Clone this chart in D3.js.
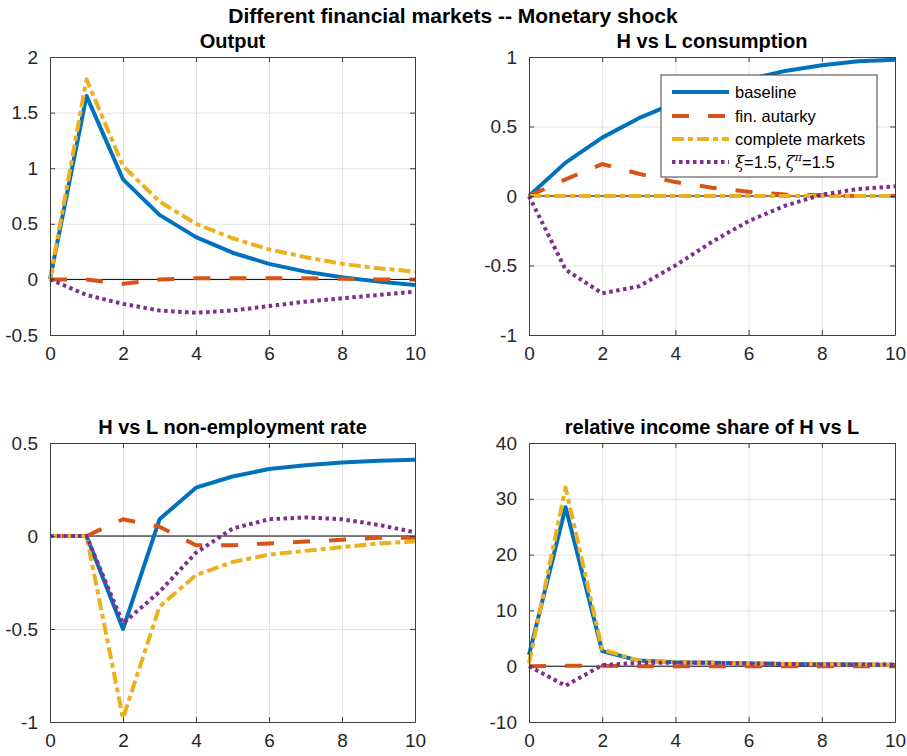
<!DOCTYPE html>
<html>
<head>
<meta charset="utf-8">
<script src="https://cdn.jsdelivr.net/npm/d3@7"></script>
<style>
  body { margin: 0; background: #fff; }
  svg { display: block; font-family: "Liberation Sans", Arial, sans-serif; }
</style>
</head>
<body>
<svg id="fig"></svg>
<script>
// horizon (quarters) and tick labels
const periods = [0, 1, 2, 3, 4, 5, 6, 7, 8, 9, 10];
const xTicks = [0, 2, 4, 6, 8, 10];

// Output
const outputBaseline = [0, 1.65, 0.90, 0.58, 0.38, 0.24, 0.14, 0.07, 0.02, -0.02, -0.05];
const outputAutarky  = [0, 0.00, -0.04, 0.00, 0.01, 0.01, 0.01, 0.01, 0.005, 0.00, 0.00];
const outputComplete = [0, 1.80, 1.02, 0.70, 0.50, 0.37, 0.27, 0.20, 0.14, 0.10, 0.07];
const outputXi       = [0, -0.14, -0.22, -0.28, -0.30, -0.28, -0.24, -0.20, -0.17, -0.14, -0.11];

// H vs L consumption
const consBaseline = [0, 0.24, 0.42, 0.56, 0.67, 0.76, 0.84, 0.90, 0.94, 0.97, 0.98];
const consAutarky  = [0, 0.12, 0.23, 0.16, 0.10, 0.06, 0.03, 0.01, 0.005, 0.00, 0.00];
const consComplete = [0, 0, 0, 0, 0, 0, 0, 0, 0, 0, 0];
const consXi       = [0, -0.53, -0.70, -0.65, -0.50, -0.33, -0.18, -0.07, 0.01, 0.05, 0.07];

// H vs L non-employment rate
const nonempBaseline = [0, 0, -0.50, 0.09, 0.26, 0.32, 0.36, 0.38, 0.395, 0.405, 0.41];
const nonempAutarky  = [0, 0, 0.09, 0.05, -0.05, -0.05, -0.04, -0.03, -0.02, -0.01, -0.01];
const nonempComplete = [0, 0, -0.98, -0.38, -0.21, -0.14, -0.10, -0.08, -0.06, -0.04, -0.03];
const nonempXi       = [0, 0, -0.47, -0.30, -0.09, 0.04, 0.09, 0.10, 0.09, 0.06, 0.02];

// relative income share of H vs L
const incomeBaseline = [2.0, 28.5, 2.7, 1.0, 0.7, 0.6, 0.5, 0.4, 0.35, 0.3, 0.2];
const incomeAutarky  = [0, 0.1, 0.1, 0, 0, 0, 0, 0, 0, 0, 0];
const incomeComplete = [0.5, 32.0, 3.0, 1.0, 0.7, 0.6, 0.5, 0.4, 0.35, 0.3, 0.25];
const incomeXi       = [0, -3.5, 0.2, 0.6, 0.6, 0.6, 0.5, 0.4, 0.3, 0.3, 0.3];

const panelTitles = ["Output", "H vs L consumption", "H vs L non-employment rate", "relative income share of H vs L"];
const panelYTicks = [
  [-0.5, 0, 0.5, 1, 1.5, 2],
  [-1, -0.5, 0, 0.5, 1],
  [-1, -0.5, 0, 0.5],
  [-10, 0, 10, 20, 30, 40]
];
const panelSeries = [
  [outputBaseline, outputAutarky, outputComplete, outputXi],
  [consBaseline, consAutarky, consComplete, consXi],
  [nonempBaseline, nonempAutarky, nonempComplete, nonempXi],
  [incomeBaseline, incomeAutarky, incomeComplete, incomeXi]
];

const styles = [
  {color: "#0072BD", dash: null},
  {color: "#D95319", dash: "17,19"},
  {color: "#EDB120", dash: "12,4,5,4"},
  {color: "#7E2F8E", dash: "3.5,3.5"}
];
const lw = 4;

const W = 907, H = 756;
const svg = d3.select("#fig").attr("width", W).attr("height", H);

const boxes = [
  {x: 50, y: 57, w: 365, h: 278},
  {x: 529, y: 57, w: 366, h: 278},
  {x: 50, y: 443, w: 365, h: 279},
  {x: 529, y: 443, w: 366, h: 279}
];

svg.append("text")
    .attr("x", 453).attr("y", 23)
    .attr("text-anchor", "middle")
    .style("font-size", "21px").style("font-weight", "bold")
    .text("Different financial markets -- Monetary shock");

const fmt = d => String(d);

boxes.forEach((b, i) => {
  const g = svg.append("g").attr("transform", `translate(${b.x},${b.y})`);
  const ticks = panelYTicks[i];
  const x = d3.scaleLinear().domain([0, 10]).range([0, b.w]);
  const y = d3.scaleLinear().domain([ticks[0], ticks[ticks.length - 1]]).range([b.h, 0]);

  // grid
  g.append("g")
      .call(d3.axisBottom(x).tickValues(xTicks).tickSize(b.h).tickFormat(""))
      .call(s => s.select(".domain").remove())
      .call(s => s.selectAll("line").attr("stroke", "#e3e3e3"));
  g.append("g")
      .call(d3.axisLeft(y).tickValues(ticks).tickSize(-b.w).tickFormat(""))
      .call(s => s.select(".domain").remove())
      .call(s => s.selectAll("line").attr("stroke", "#e3e3e3"));

  // zero line
  g.append("line")
      .attr("x1", x(0)).attr("x2", x(10))
      .attr("y1", y(0)).attr("y2", y(0))
      .attr("stroke", "#000").attr("stroke-width", 1);

  // series
  const line = d3.line().x((d, k) => x(periods[k])).y(d => y(d));
  panelSeries[i].forEach((vals, k) => {
    g.append("path")
        .datum(vals)
        .attr("d", line)
        .attr("fill", "none")
        .attr("stroke", styles[k].color)
        .attr("stroke-width", lw)
        .attr("stroke-linejoin", "round")
        .attr("stroke-dasharray", styles[k].dash);
  });

  // axes, box with inward ticks
  const axStyle = s => {
    s.select(".domain").attr("stroke", "#404040");
    s.selectAll(".tick line").attr("stroke", "#404040");
    s.selectAll("text").attr("fill", "#262626").style("font-size", "19px")
      .style("font-family", "'Liberation Sans', Arial, sans-serif");
  };
  g.append("g").attr("transform", `translate(0,${b.h})`)
      .call(d3.axisBottom(x).tickValues(xTicks).tickSizeInner(-5).tickSizeOuter(0).tickPadding(12).tickFormat(fmt))
      .call(axStyle);
  g.append("g")
      .call(d3.axisTop(x).tickValues(xTicks).tickSizeInner(-5).tickSizeOuter(0).tickFormat(""))
      .call(axStyle);
  g.append("g")
      .call(d3.axisLeft(y).tickValues(ticks).tickSizeInner(-5).tickSizeOuter(0).tickPadding(12).tickFormat(fmt))
      .call(axStyle);
  g.append("g").attr("transform", `translate(${b.w},0)`)
      .call(d3.axisRight(y).tickValues(ticks).tickSizeInner(-5).tickSizeOuter(0).tickFormat(""))
      .call(axStyle);

  g.append("text")
      .attr("x", b.w / 2).attr("y", -9)
      .attr("text-anchor", "middle")
      .style("font-size", "20px").style("font-weight", "bold")
      .text(panelTitles[i]);
});

// legend in the consumption panel
const leg = svg.append("g").attr("transform", "translate(661,75)");
leg.append("rect")
    .attr("width", 216).attr("height", 102)
    .attr("fill", "#fff").attr("stroke", "#404040").attr("stroke-width", 1);
const rowY = [17, 41, 64, 87];
const labels = ["baseline", "fin. autarky", "complete markets", null];
rowY.forEach((ry, k) => {
  leg.append("line")
      .attr("x1", 11).attr("x2", 68).attr("y1", ry).attr("y2", ry)
      .attr("stroke", styles[k].color).attr("stroke-width", lw)
      .attr("stroke-dasharray", styles[k].dash);
  const t = leg.append("text").attr("x", 74).attr("y", ry + 6)
      .attr("fill", "#000").style("font-size", "16.5px");
  if (labels[k]) {
    t.text(labels[k]);
  } else {
    t.append("tspan").style("font-style", "italic").style("font-family", "'DejaVu Serif', serif").text("\u03BE");
    t.append("tspan").text("=1.5, ");
    t.append("tspan").style("font-style", "italic").style("font-family", "'DejaVu Serif', serif").text("\u03B6");
    t.append("tspan").attr("dy", -7).style("font-size", "11px").style("font-style", "italic")
        .style("font-family", "'DejaVu Serif', serif").text("\u03C0");
    t.append("tspan").attr("dy", 7).text("=1.5");
  }
});
</script>
</body>
</html>
